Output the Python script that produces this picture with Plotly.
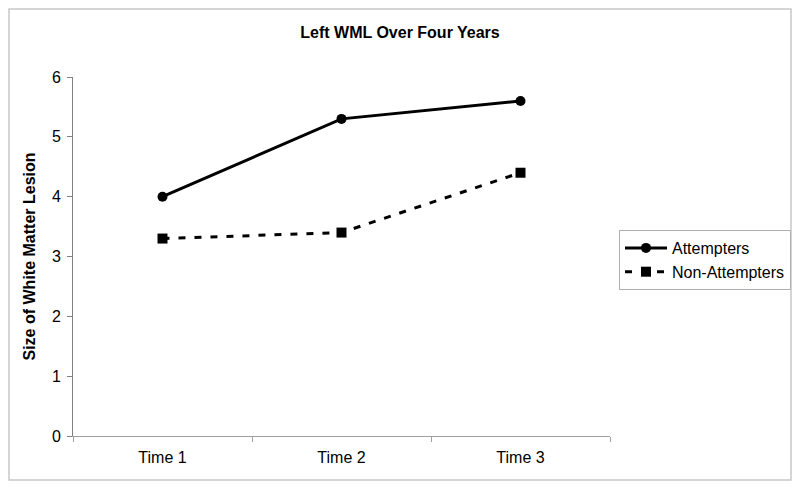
import plotly.graph_objects as go

categories = ["Time 1", "Time 2", "Time 3"]
attempters = [4.0, 5.3, 5.6]
non_attempters = [3.3, 3.4, 4.4]
y_ticks = [0, 1, 2, 3, 4, 5, 6]

fig = go.Figure()
fig.add_trace(go.Scatter(x=categories, y=attempters, name="Attempters", mode="lines+markers",
                         line=dict(color="black", width=3),
                         marker=dict(symbol="circle", size=10, color="black")))
fig.add_trace(go.Scatter(x=categories, y=non_attempters, name="Non-Attempters", mode="lines+markers",
                         line=dict(color="black", width=3, dash="7px,9px"),
                         marker=dict(symbol="square", size=10, color="black")))

W, H = 784, 473
L, T = 65, 69
R = W - 602
B = H - 428
pw, ph = W - L - R, H - T - B

fig.update_layout(
    width=W, height=H,
    margin=dict(l=L, r=R, t=T, b=B, autoexpand=False),
    paper_bgcolor="white", plot_bgcolor="white",
    font=dict(family="Liberation Sans, Arial, sans-serif", size=16, color="black"),
    title=dict(text="<b>Left WML Over Four Years</b>", x=0.5, xanchor="center",
               y=1 - 24/H, yanchor="middle", font=dict(size=16)),
    showlegend=True,
    legend=dict(x=(611 - L)/pw, y=(428 - 222)/ph, xanchor="left", yanchor="top",
                bordercolor="#b0b0b0", borderwidth=1, font=dict(size=16),
                tracegroupgap=0, itemwidth=42),
    xaxis=dict(type="category", range=[-0.5, 2.5], showline=True, linecolor="#a0a0a0",
               linewidth=1, ticks="outside", tickson="boundaries", ticklen=5,
               tickcolor="#a0a0a0", showgrid=False, zeroline=False, ticklabelstandoff=7),
    yaxis=dict(range=[0, 6], tickvals=y_ticks, showline=True, linecolor="#808080",
               linewidth=1, ticks="outside", ticklen=5, tickcolor="#808080",
               showgrid=False, zeroline=False, ticklabelstandoff=3,
               title=dict(text="<b>Size of White Matter Lesion</b>", font=dict(size=16), standoff=12)),
    shapes=[dict(type="rect", xref="paper", yref="paper",
                 x0=(-L + 1)/pw, x1=(W - L - 1)/pw, y0=(-B + 1)/ph, y1=(H - B - 1)/ph,
                 line=dict(color="#c8c8c8", width=1.5), fillcolor="rgba(0,0,0,0)", layer="below")],
)

fig.write_html("out.html")
